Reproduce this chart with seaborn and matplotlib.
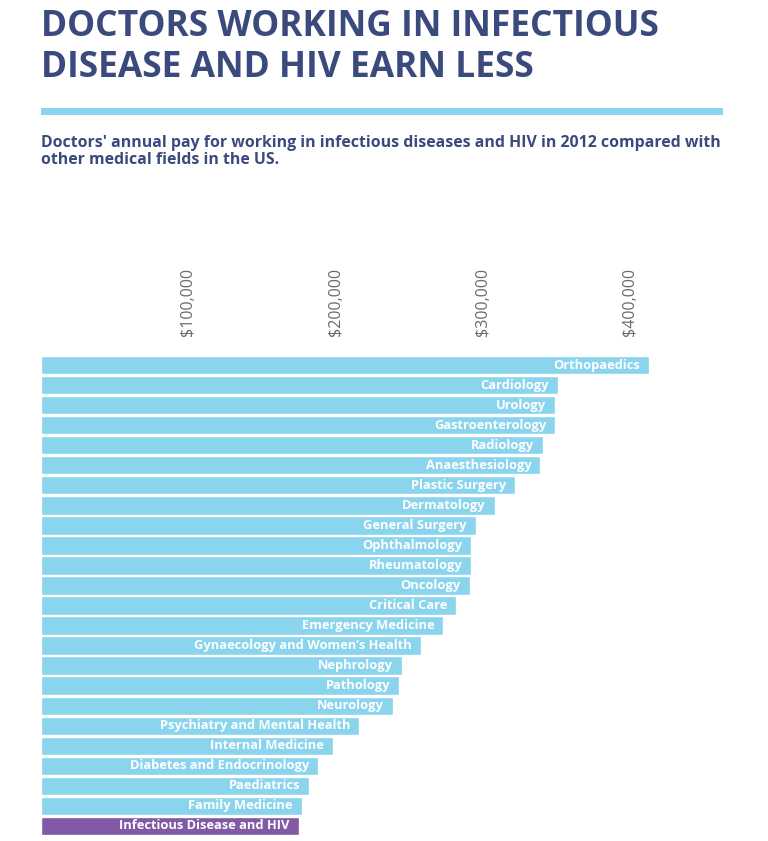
import matplotlib
matplotlib.use("Agg")
import matplotlib.pyplot as plt
from matplotlib.patches import Rectangle
import seaborn as sns
import pandas as pd

specialties = [
    "Orthopaedics", "Cardiology", "Urology", "Gastroenterology", "Radiology",
    "Anaesthesiology", "Plastic Surgery", "Dermatology", "General Surgery",
    "Ophthalmology", "Rheumatology", "Oncology", "Critical Care",
    "Emergency Medicine", "Gynaecology and Women\u2019s Health", "Nephrology",
    "Pathology", "Neurology", "Psychiatry and Mental Health",
    "Internal Medicine", "Diabetes and Endocrinology", "Paediatrics",
    "Family Medicine", "Infectious Disease and HIV",
]
pay = [
    413000, 351000, 349000, 349000, 341000,
    339000, 322000, 308000, 295000,
    292000, 292000, 291000, 282000,
    273000, 258000, 245000,
    243000, 239000, 216000,
    198000, 188000, 182000,
    177000, 175000,
]
tick_values = [100000, 200000, 300000, 400000]
tick_labels = ["$100,000", "$200,000", "$300,000", "$400,000"]

BLUE = "#8AD4EE"
PURPLE = "#8159A4"
NAVY = "#3B4A7D"

sns.set_theme(style="white")
plt.rcParams["font.family"] = ["Open Sans", "DejaVu Sans"]

W, H = 768, 841
fig = plt.figure(figsize=(W / 100, H / 100), dpi=100)
ax = fig.add_axes([41 / W, 1 - 836 / H, 682 / W, 481 / H])

df = pd.DataFrame({"specialty": specialties, "pay": pay})
colors = [PURPLE if s == "Infectious Disease and HIV" else BLUE for s in specialties]
sns.barplot(data=df, x="pay", y="specialty", hue="specialty", palette=colors,
            legend=False, saturation=1, width=0.92, ax=ax, orient="h")

ax.set_xlim(0, 682 / 1.4733 * 1000)
ax.set_ylim(len(specialties) - 0.5, -0.5)
ax.set_xlabel("")
ax.set_ylabel("")
ax.set_yticks([])
ax.xaxis.tick_top()
ax.set_xticks(tick_values)
ax.set_xticklabels(tick_labels, rotation=90, color="#6B6B6B", fontsize=11.5)
ax.tick_params(axis="x", length=0, pad=14)
for sp in ax.spines.values():
    sp.set_visible(False)

for i, (s, v) in enumerate(zip(specialties, pay)):
    ax.annotate(s, (v, i), xytext=(-6.5, 0), textcoords="offset points",
                ha="right", va="center", color="white", fontsize=9.3,
                fontweight="bold")

fig.text(41 / W, 1 - 36 / H, "DOCTORS WORKING IN INFECTIOUS",
         fontweight="bold", fontsize=25.5, color=NAVY, va="baseline", ha="left")
fig.text(41 / W, 1 - 77 / H, "DISEASE AND HIV EARN LESS",
         fontweight="bold", fontsize=25.5, color=NAVY, va="baseline", ha="left")

fig.add_artist(Rectangle((41 / W, 1 - 115 / H), 682 / W, 7 / H,
                         transform=fig.transFigure, color=BLUE, lw=0))

fig.text(41 / W, 1 - 147 / H,
         "Doctors' annual pay for working in infectious diseases and HIV in 2012 compared with",
         fontsize=11.4, fontweight="bold", color=NAVY, va="baseline", ha="left")
fig.text(41 / W, 1 - 164 / H, "other medical fields in the US.",
         fontsize=11.4, fontweight="bold", color=NAVY, va="baseline", ha="left")

fig.savefig("out.png", dpi=100)
